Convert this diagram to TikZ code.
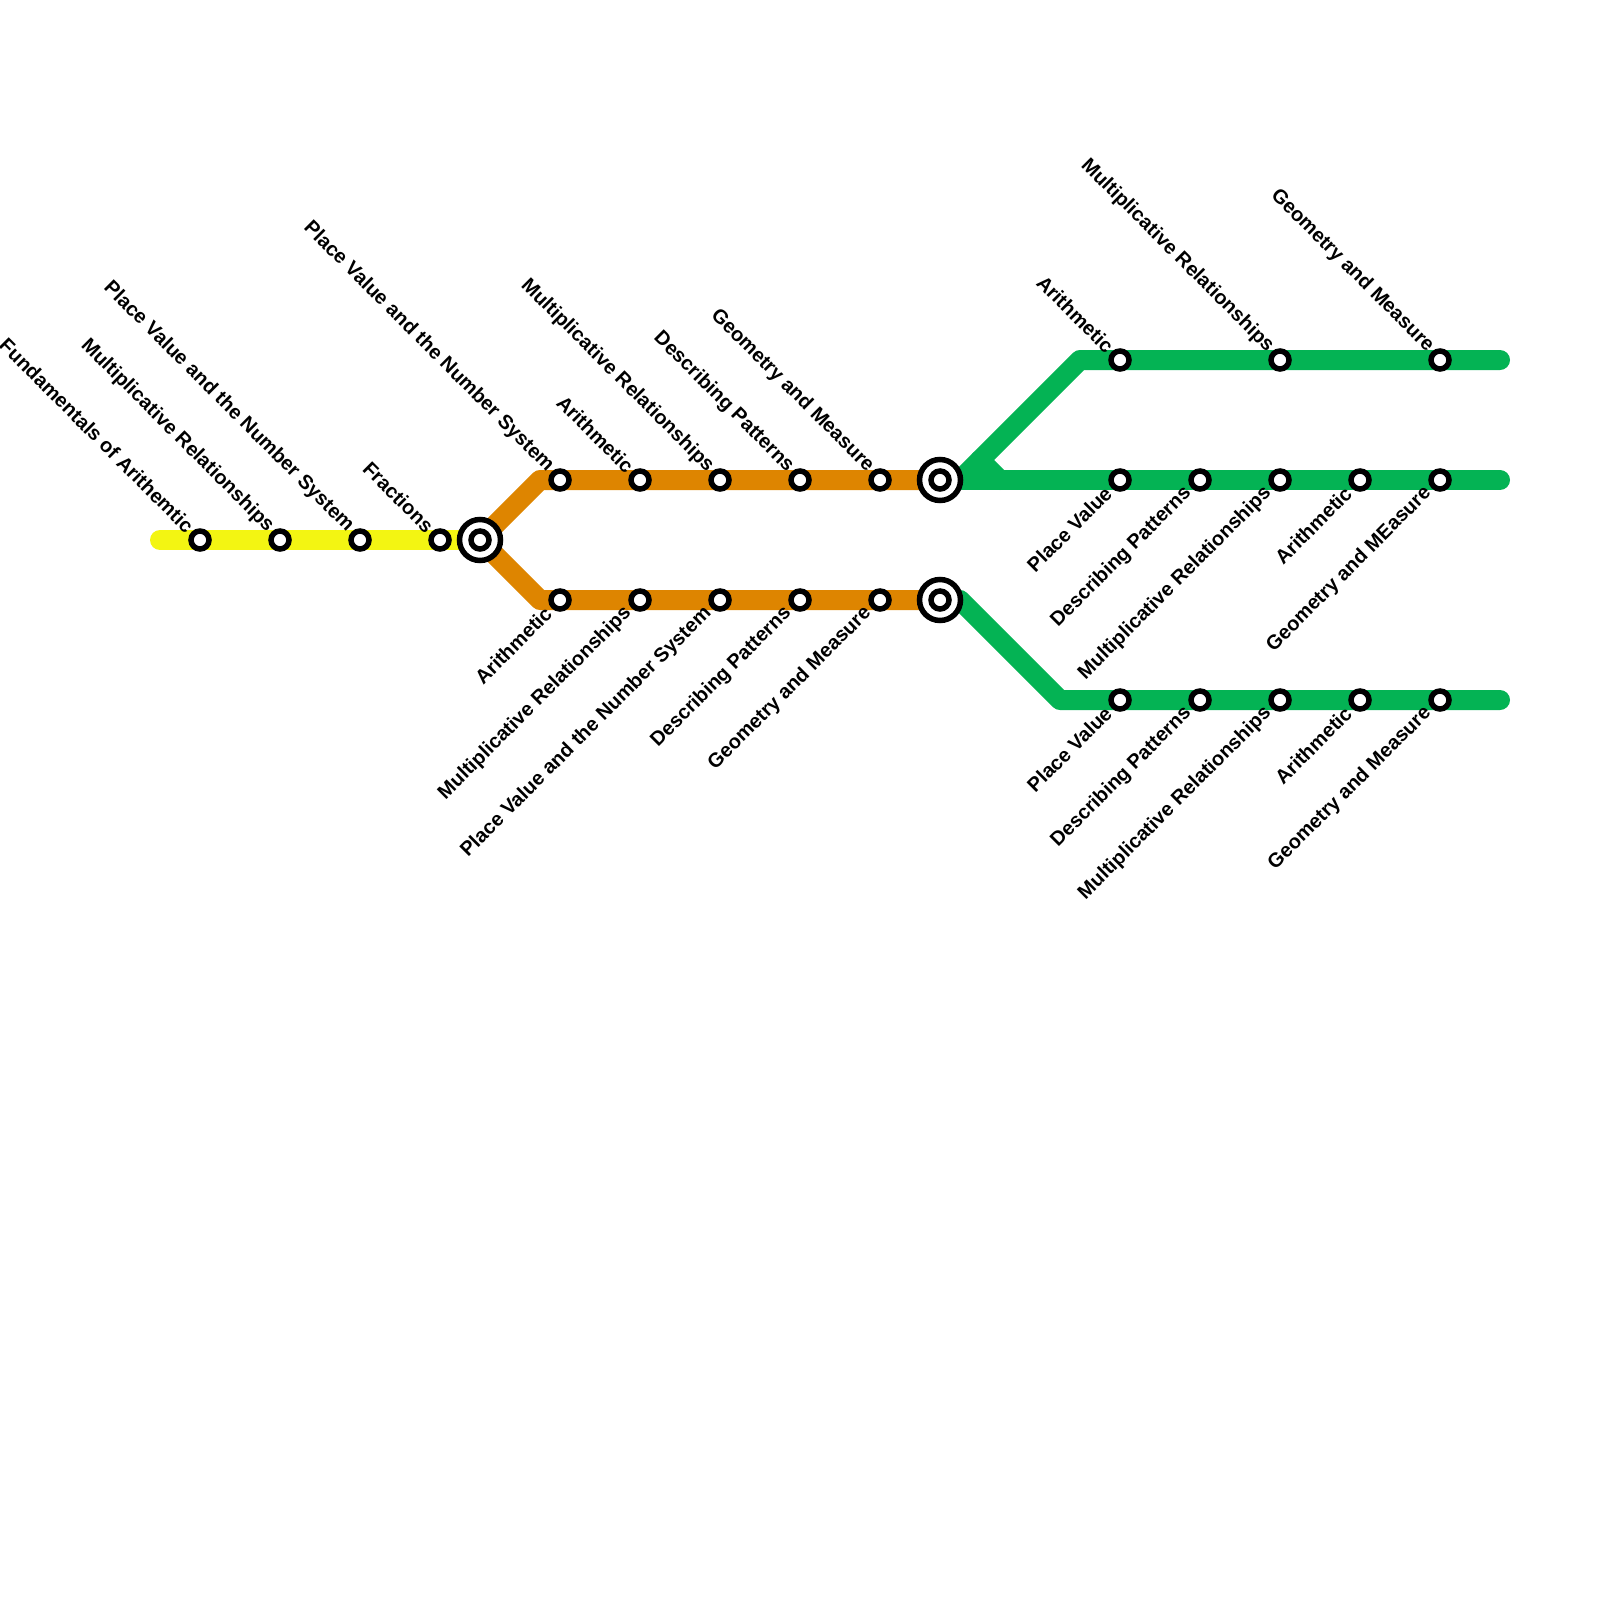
\documentclass[tikz,border=0pt]{standalone}
\usepackage{fontspec}
\usepackage{xcolor}
\setmainfont{Liberation Sans}
\usetikzlibrary{backgrounds}
\definecolor{lineyellow}{HTML}{F3F512}
\definecolor{lineorange}{HTML}{DE8500}
\definecolor{linegreen}{HTML}{04B354}

\begin{document}
\begin{tikzpicture}[
    x=1pt, y=-1pt,
    stn/.style={circle, draw, fill=white, line width=5.5pt, minimum size=18pt, inner sep=0pt},
    hub/.style={circle, draw, fill=white, line width=5.5pt, minimum size=41pt, inner sep=0pt},
    lblup/.style={rotate=-45, anchor=east, font=\fontsize{20}{20}\selectfont\bfseries, inner sep=0pt, xshift=-14.5pt, yshift=1pt},
    lbldn/.style={rotate=45, anchor=east, font=\fontsize{20}{20}\selectfont\bfseries, inner sep=0pt, xshift=-15.5pt, yshift=1pt},
    metro/.style={line width=20pt, line cap=round, line join=round},
  ]
  \useasboundingbox (0,0) rectangle (1600,1600);

  % yellow line
  \coordinate (ystart) at (160,540);
  \node[stn] (y1) at (200,540)  {};
  \node[stn] (y2) at (280,540)  {};
  \node[stn] (y3) at (360,540)  {};
  \node[stn] (y4) at (440,540)  {};
  \node[hub] (hubA) at (480,540) {};
  \node[stn] (hubAc) at (hubA)   {};

  % orange lines
  \coordinate (obendu) at (540,480);
  \coordinate (obendd) at (540,600);
  \node[stn] (ou1) at (560,480) {};
  \node[stn] (ou2) at (640,480) {};
  \node[stn] (ou3) at (720,480) {};
  \node[stn] (ou4) at (800,480) {};
  \node[stn] (ou5) at (880,480) {};
  \node[stn] (od1) at (560,600) {};
  \node[stn] (od2) at (640,600) {};
  \node[stn] (od3) at (720,600) {};
  \node[stn] (od4) at (800,600) {};
  \node[stn] (od5) at (880,600) {};
  \node[hub] (hubB) at (940,480) {};
  \node[stn] (hubBc) at (hubB)   {};
  \node[hub] (hubC) at (940,600) {};
  \node[stn] (hubCc) at (hubC)   {};

  % green lines
  \coordinate (gsplit) at (960,480);
  \coordinate (gbendt) at (1080,360);
  \coordinate (gstuba) at (980,460);
  \coordinate (gstubb) at (1000,480);
  \coordinate (gturn)  at (960,600);
  \coordinate (gbendb) at (1060,700);
  \coordinate (gendt)  at (1500,360);
  \coordinate (gendm)  at (1500,480);
  \coordinate (gendb)  at (1500,700);
  \node[stn] (gt1) at (1120,360) {};
  \node[stn] (gt2) at (1280,360) {};
  \node[stn] (gt3) at (1440,360) {};
  \node[stn] (gm1) at (1120,480) {};
  \node[stn] (gm2) at (1200,480) {};
  \node[stn] (gm3) at (1280,480) {};
  \node[stn] (gm4) at (1360,480) {};
  \node[stn] (gm5) at (1440,480) {};
  \node[stn] (gb1) at (1120,700) {};
  \node[stn] (gb2) at (1200,700) {};
  \node[stn] (gb3) at (1280,700) {};
  \node[stn] (gb4) at (1360,700) {};
  \node[stn] (gb5) at (1440,700) {};

  \begin{scope}[on background layer]
    \draw[metro, lineyellow] (ystart) -- (hubA.center);
    \draw[metro, lineorange] (hubA.center) -- (obendu) -- (hubB.center);
    \draw[metro, lineorange] (hubA.center) -- (obendd) -- (hubC.center);
    \draw[metro, linegreen] (hubB.center) -- (gendm);
    \draw[metro, linegreen] (gsplit) -- (gbendt) -- (gendt);
    \draw[metro, linegreen] (gstuba) -- (gstubb);
    \draw[metro, linegreen] (hubC.center) -- (gturn) -- (gbendb) -- (gendb);
  \end{scope}

  \node[lblup] (y1t) at (y1) {Fundamentals of Arithemtic};
  \node[lblup] (y2t) at (y2) {Multiplicative Relationships};
  \node[lblup] (y3t) at (y3) {Place Value and the Number System};
  \node[lblup] (y4t) at (y4) {Fractions};

  \node[lblup] (ou1t) at (ou1) {Place Value and the Number System};
  \node[lblup] (ou2t) at (ou2) {Arithmetic};
  \node[lblup] (ou3t) at (ou3) {Multiplicative Relationships};
  \node[lblup] (ou4t) at (ou4) {Describing Patterns};
  \node[lblup] (ou5t) at (ou5) {Geometry and Measure};
  \node[lbldn] (od1t) at (od1) {Arithmetic};
  \node[lbldn] (od2t) at (od2) {Multiplicative Relationships};
  \node[lbldn] (od3t) at (od3) {Place Value and the Number System};
  \node[lbldn] (od4t) at (od4) {Describing Patterns};
  \node[lbldn] (od5t) at (od5) {Geometry and Measure};

  \node[lblup] (gt1t) at (gt1) {Arithmetic};
  \node[lblup] (gt2t) at (gt2) {Multiplicative Relationships};
  \node[lblup] (gt3t) at (gt3) {Geometry and Measure};
  \node[lbldn] (gm1t) at (gm1) {Place Value};
  \node[lbldn] (gm2t) at (gm2) {Describing Patterns};
  \node[lbldn] (gm3t) at (gm3) {Multiplicative Relationships};
  \node[lbldn] (gm4t) at (gm4) {Arithmetic};
  \node[lbldn] (gm5t) at (gm5) {Geometry and MEasure};
  \node[lbldn] (gb1t) at (gb1) {Place Value};
  \node[lbldn] (gb2t) at (gb2) {Describing Patterns};
  \node[lbldn] (gb3t) at (gb3) {Multiplicative Relationships};
  \node[lbldn] (gb4t) at (gb4) {Arithmetic};
  \node[lbldn] (gb5t) at (gb5) {Geometry and Measure};
\end{tikzpicture}
\end{document}
